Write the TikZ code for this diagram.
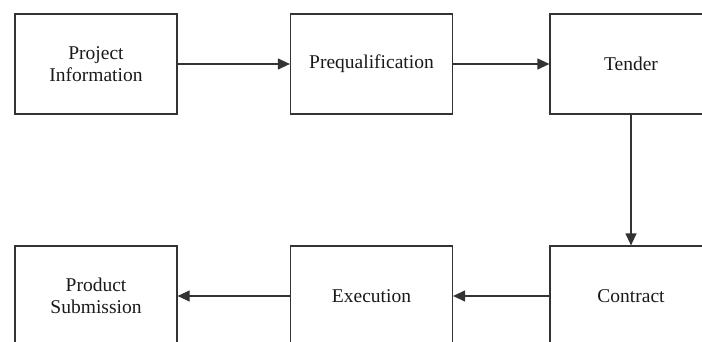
\documentclass[tikz,border=0pt]{standalone}
\usepackage{fontspec}
\setmainfont{Liberation Serif}
\usetikzlibrary{arrows.meta}
\definecolor{linec}{HTML}{333333}
\definecolor{textc}{HTML}{1A1A1A}
\tikzset{
  stage/.style={draw=linec, line width=1.2pt, minimum width=162pt, minimum height=100pt,
    inner sep=0pt, align=center, text=textc,
    font=\fontsize{19.5pt}{22pt}\selectfont},
  flow/.style={draw=linec, line width=1.2pt, -{Triangle[length=12pt,width=11pt]}}
}
\begin{document}
\begin{tikzpicture}[x=1pt,y=-1pt]
\useasboundingbox (0,0) rectangle (702,342);
\node[stage] (pi) at (96,64) {Project\\Information};
\node[stage] (pq) at (371.5,64) {Prequalification};
\node[stage] (te) at (631,64) {Tender};
\node[stage] (ps) at (96,296) {Product\\Submission};
\node[stage] (ex) at (371.5,296) {Execution};
\node[stage] (co) at (631,296) {Contract};
\draw[flow] (pi) -- (pq);
\draw[flow] (pq) -- (te);
\draw[flow] (te) -- (co);
\draw[flow] (co) -- (ex);
\draw[flow] (ex) -- (ps);
\end{tikzpicture}
\end{document}
